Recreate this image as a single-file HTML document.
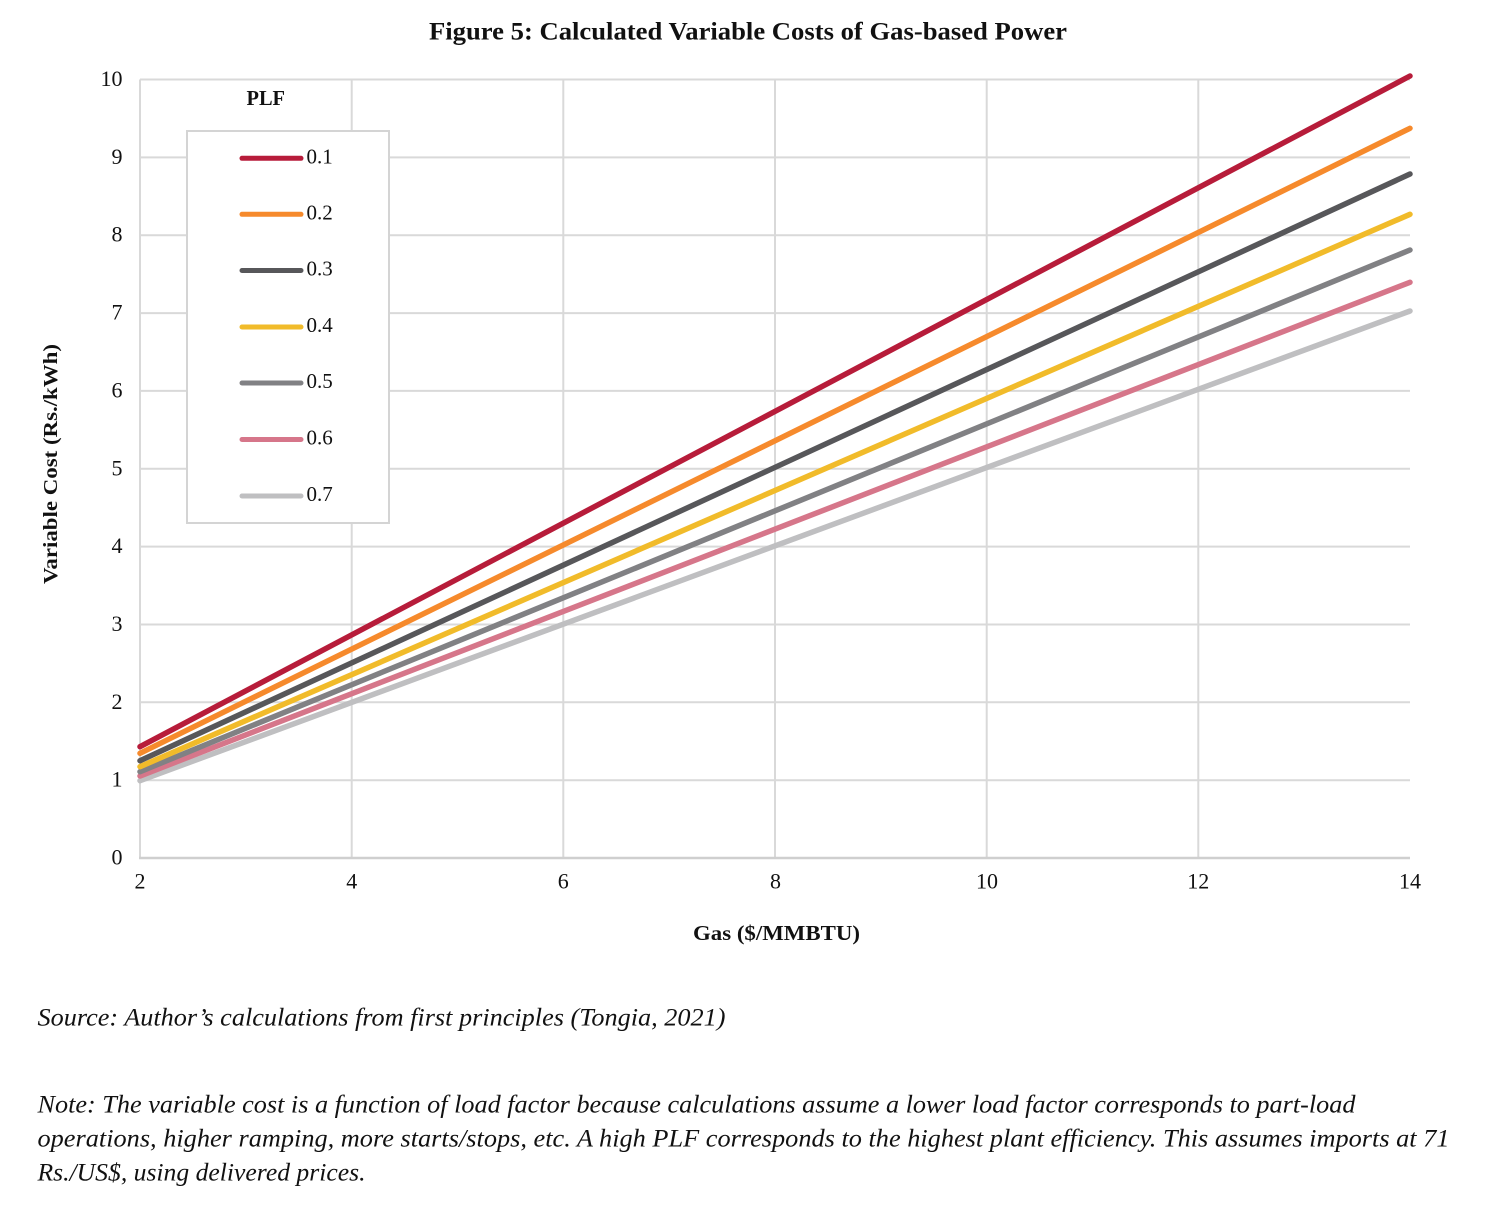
<!DOCTYPE html>
<html>
<head>
<meta charset="utf-8">
<style>
  html, body { margin: 0; padding: 0; background: #ffffff; }
  svg { display: block; }
  text { font-family: "Liberation Serif", serif; fill: #111111; }
</style>
</head>
<body>
<svg width="1500" height="1212" viewBox="0 0 1500 1212" xmlns="http://www.w3.org/2000/svg">
  <rect x="0" y="0" width="1500" height="1212" fill="#ffffff"/>

  <!-- Title -->
  <text x="429" y="39.5" font-size="25" font-weight="bold" textLength="638" lengthAdjust="spacingAndGlyphs">Figure 5: Calculated Variable Costs of Gas-based Power</text>

  <!-- Horizontal gridlines -->
  <g stroke="#d9d9d9" stroke-width="2">
    <line x1="140" y1="79.5" x2="1410" y2="79.5"/>
    <line x1="140" y1="157.4" x2="1410" y2="157.4"/>
    <line x1="140" y1="235.2" x2="1410" y2="235.2"/>
    <line x1="140" y1="313.1" x2="1410" y2="313.1"/>
    <line x1="140" y1="390.9" x2="1410" y2="390.9"/>
    <line x1="140" y1="468.8" x2="1410" y2="468.8"/>
    <line x1="140" y1="546.6" x2="1410" y2="546.6"/>
    <line x1="140" y1="624.5" x2="1410" y2="624.5"/>
    <line x1="140" y1="702.3" x2="1410" y2="702.3"/>
    <line x1="140" y1="780.2" x2="1410" y2="780.2"/>
  </g>
  <!-- Vertical gridlines -->
  <g stroke="#d9d9d9" stroke-width="2">
    <line x1="140" y1="79.5" x2="140" y2="858"/>
    <line x1="351.7" y1="79.5" x2="351.7" y2="858"/>
    <line x1="563.3" y1="79.5" x2="563.3" y2="858"/>
    <line x1="775" y1="79.5" x2="775" y2="858"/>
    <line x1="986.7" y1="79.5" x2="986.7" y2="858"/>
    <line x1="1198.3" y1="79.5" x2="1198.3" y2="858"/>
  </g>
  <!-- X axis -->
  <line x1="139" y1="858" x2="1410" y2="858" stroke="#cfcfcf" stroke-width="2.5"/>

  <!-- Y tick labels -->
  <g font-size="22" text-anchor="end">
    <text x="122.5" y="86">10</text>
    <text x="122.5" y="164">9</text>
    <text x="122.5" y="241.7">8</text>
    <text x="122.5" y="319.6">7</text>
    <text x="122.5" y="397.4">6</text>
    <text x="122.5" y="475.3">5</text>
    <text x="122.5" y="553.1">4</text>
    <text x="122.5" y="631">3</text>
    <text x="122.5" y="708.8">2</text>
    <text x="122.5" y="786.7">1</text>
    <text x="122.5" y="864.5">0</text>
  </g>

  <!-- X tick labels -->
  <g font-size="22" text-anchor="middle">
    <text x="140" y="888.5">2</text>
    <text x="351.7" y="888.5">4</text>
    <text x="563.3" y="888.5">6</text>
    <text x="775.5" y="888.5">8</text>
    <text x="987" y="888.5">10</text>
    <text x="1198.3" y="888.5">12</text>
    <text x="1410" y="888.5">14</text>
  </g>

  <!-- Axis titles -->
  <text x="693" y="940" font-size="21" font-weight="bold" textLength="167" lengthAdjust="spacingAndGlyphs">Gas ($/MMBTU)</text>
  <text transform="translate(57,464) rotate(-90)" x="0" y="0" font-size="20" font-weight="bold" text-anchor="middle" textLength="240" lengthAdjust="spacingAndGlyphs">Variable Cost (Rs./kWh)</text>

  <!-- Data series -->
  <g stroke-width="5.5" stroke-linecap="round" fill="none">
    <line x1="140" y1="780.7" x2="1410" y2="311" stroke="#bfbfc1"/>
    <line x1="140" y1="776" x2="1410" y2="282.3" stroke="#d6768a"/>
    <line x1="140" y1="771.7" x2="1410" y2="250" stroke="#818184"/>
    <line x1="140" y1="766.7" x2="1410" y2="214.3" stroke="#f1bb2a"/>
    <line x1="140" y1="760.7" x2="1410" y2="174" stroke="#57575a"/>
    <line x1="140" y1="753.3" x2="1410" y2="128.3" stroke="#f68a2c"/>
    <line x1="140" y1="746.7" x2="1410" y2="76" stroke="#b71c3a"/>
  </g>

  <!-- Legend -->
  <text x="246.5" y="105" font-size="21" font-weight="bold" textLength="38.5" lengthAdjust="spacingAndGlyphs">PLF</text>
  <rect x="187" y="131" width="202" height="392" fill="#ffffff" stroke="#d4d4d4" stroke-width="2"/>
  <g stroke-width="5" stroke-linecap="round">
    <line x1="242" y1="158.3" x2="301" y2="158.3" stroke="#b71c3a"/>
    <line x1="242" y1="214.3" x2="301" y2="214.3" stroke="#f68a2c"/>
    <line x1="242" y1="270.5" x2="301" y2="270.5" stroke="#57575a"/>
    <line x1="242" y1="327" x2="301" y2="327" stroke="#f1bb2a"/>
    <line x1="242" y1="383" x2="301" y2="383" stroke="#818184"/>
    <line x1="242" y1="439.5" x2="301" y2="439.5" stroke="#d6768a"/>
    <line x1="242" y1="496" x2="301" y2="496" stroke="#bfbfc1"/>
  </g>
  <g font-size="21">
    <text x="306.5" y="163.5">0.1</text>
    <text x="306.5" y="219.5">0.2</text>
    <text x="306.5" y="275.7">0.3</text>
    <text x="306.5" y="332.2">0.4</text>
    <text x="306.5" y="388.2">0.5</text>
    <text x="306.5" y="444.7">0.6</text>
    <text x="306.5" y="501.2">0.7</text>
  </g>

  <!-- Source and notes -->
  <g font-size="25" font-style="italic">
    <text x="37.5" y="1025.7" textLength="688" lengthAdjust="spacingAndGlyphs">Source: Author’s calculations from first principles (Tongia, 2021)</text>
    <text x="37.5" y="1112.3" textLength="1318" lengthAdjust="spacingAndGlyphs">Note: The variable cost is a function of load factor because calculations assume a lower load factor corresponds to part-load</text>
    <text x="37.5" y="1146.3" textLength="1412" lengthAdjust="spacingAndGlyphs">operations, higher ramping, more starts/stops, etc. A high PLF corresponds to the highest plant efficiency. This assumes imports at 71</text>
    <text x="37.5" y="1180.3" textLength="328" lengthAdjust="spacingAndGlyphs">Rs./US$, using delivered prices.</text>
  </g>
</svg>
</body>
</html>
